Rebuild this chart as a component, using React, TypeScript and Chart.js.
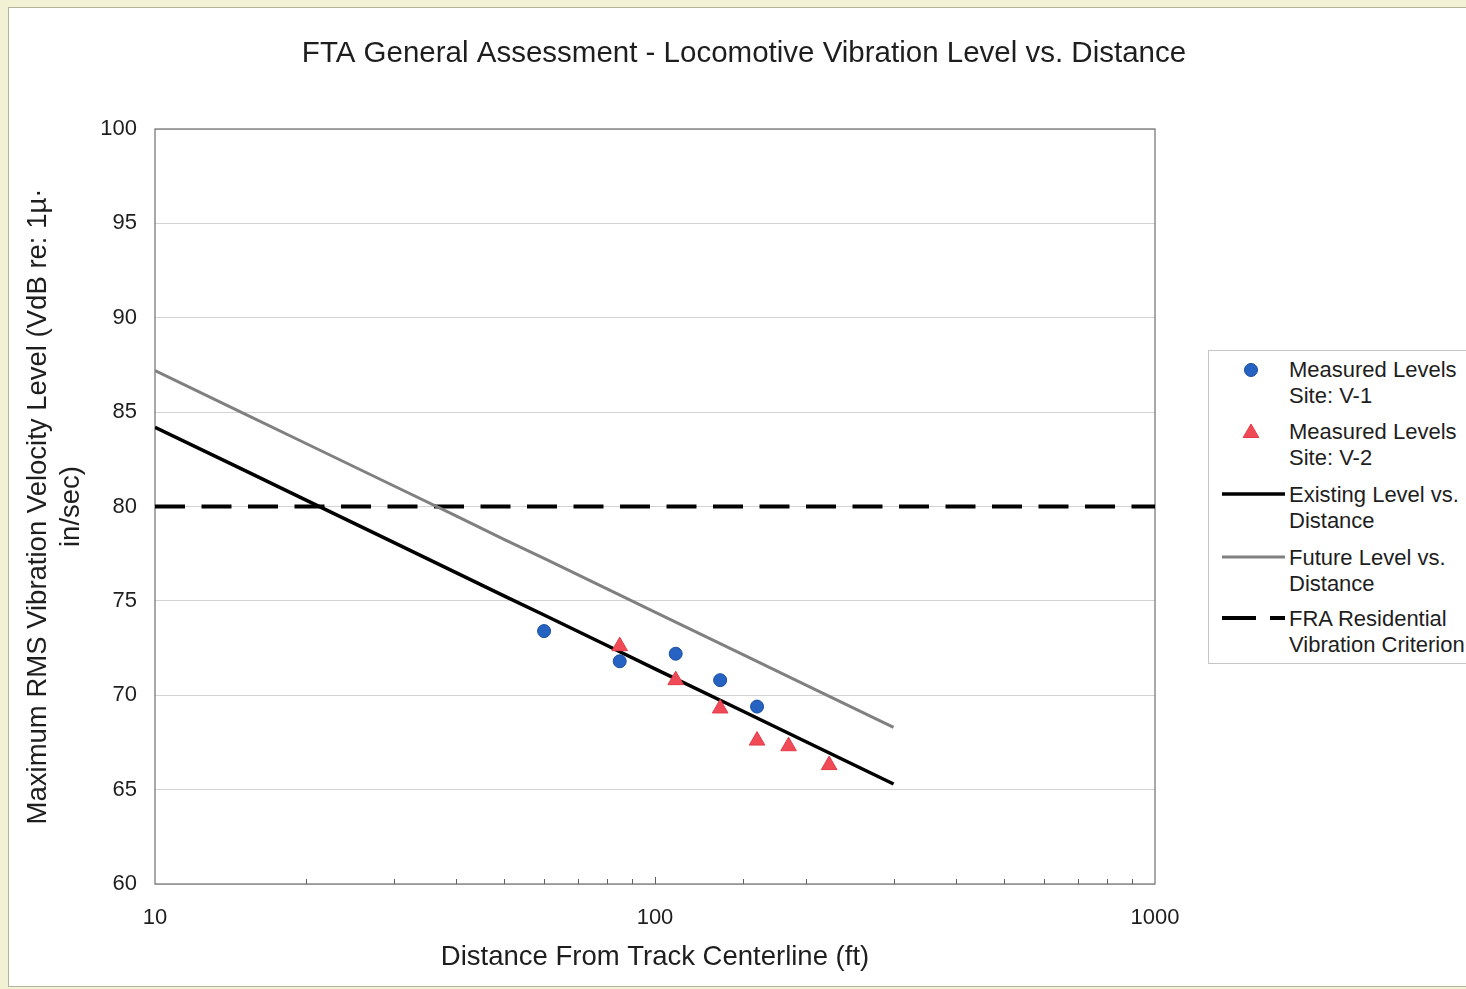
import React, { useEffect, useRef } from "react";
import { Chart, registerables } from "chart.js";

Chart.register(...registerables);

const FONT = '"Liberation Sans", Arial, Helvetica, sans-serif';
const TEXT = "#1e1e1e";

// ---- text ----
const chartTitle = "FTA General Assessment - Locomotive Vibration Level vs. Distance";
const xAxisTitle = "Distance From Track Centerline (ft)";
const yAxisTitle = ["Maximum RMS Vibration Velocity Level (VdB re: 1µ·", "in/sec)"];

// ---- axes ----
const xAxisRange = [10, 1000];
const xTickLabels = [10, 100, 1000];
const yAxisRange = [60, 100];
const yTickStep = 5;

// ---- series ----
const v1Distance = [60, 85, 110, 135, 160];
const v1Level = [73.4, 71.8, 72.2, 70.8, 69.4];

const v2Distance = [85, 110, 135, 160, 185, 223];
const v2Level = [72.6, 70.8, 69.3, 67.6, 67.3, 66.3];

const curveDistance = [10, 15, 20, 30, 40, 50, 60, 80, 100, 150, 200, 300];
const existingLevel = [84.2, 81.95, 80.35, 78.1, 76.5, 75.25, 74.25, 72.65, 71.4, 69.15, 67.55, 65.3];
const futureLevel = [87.2, 84.95, 83.35, 81.1, 79.5, 78.25, 77.25, 75.65, 74.4, 72.15, 70.55, 68.3];

const criterionDistance = [10, 1000];
const criterionLevel = [80, 80];

const seriesNames = [
  ["Measured Levels", "Site: V-1"],
  ["Measured Levels", "Site: V-2"],
  ["Existing Level vs.", "Distance"],
  ["Future Level vs.", "Distance"],
  ["FRA Residential", "Vibration Criterion"],
];

const toPoints = (xs: number[], ys: number[]) => xs.map((x, i) => ({ x, y: ys[i] }));

const framePlugin = {
  id: "frame",
  beforeDatasetsDraw(chart: any) {
    const { ctx, chartArea } = chart;
    const xs = chart.scales.x;
    ctx.save();
    ctx.strokeStyle = "#707070";
    ctx.lineWidth = 1.2;
    ctx.strokeRect(chartArea.left, chartArea.top, chartArea.right - chartArea.left, chartArea.bottom - chartArea.top);
    ctx.strokeStyle = "#606060";
    ctx.lineWidth = 1;
    for (const t of xs.ticks) {
      const px = xs.getPixelForValue(t.value);
      if (px <= chartArea.left + 1 || px >= chartArea.right - 1) continue;
      const lg = Math.log10(t.value);
      const major = Math.abs(lg - Math.round(lg)) < 1e-9;
      const len = major ? 7 : 5;
      ctx.beginPath();
      ctx.moveTo(Math.round(px) + 0.5, chartArea.bottom);
      ctx.lineTo(Math.round(px) + 0.5, chartArea.bottom - len);
      ctx.stroke();
    }
    ctx.restore();
  },
};

export default function App() {
  const ref = useRef<HTMLCanvasElement>(null);

  useEffect(() => {
    const canvas = ref.current!;
    const chart = new Chart(canvas, {
      type: "scatter",
      data: {
        datasets: [
          {
            label: seriesNames[0].join(" "),
            data: toPoints(v1Distance, v1Level),
            pointStyle: "circle",
            pointRadius: 6.5,
            backgroundColor: "#2662c2",
            borderColor: "#1b4e9e",
            borderWidth: 1,
            showLine: false,
          },
          {
            label: seriesNames[1].join(" "),
            data: toPoints(v2Distance, v2Level),
            pointStyle: "triangle",
            pointRadius: 9,
            backgroundColor: "#f04a57",
            borderColor: "#e23b48",
            borderWidth: 1,
            showLine: false,
          },
          {
            label: seriesNames[2].join(" "),
            data: toPoints(curveDistance, existingLevel),
            showLine: true,
            pointRadius: 0,
            borderColor: "#000000",
            borderWidth: 3.5,
            tension: 0,
          },
          {
            label: seriesNames[3].join(" "),
            data: toPoints(curveDistance, futureLevel),
            showLine: true,
            pointRadius: 0,
            borderColor: "#808080",
            borderWidth: 3,
            tension: 0,
          },
          {
            label: seriesNames[4].join(" "),
            data: toPoints(criterionDistance, criterionLevel),
            showLine: true,
            pointRadius: 0,
            borderColor: "#000000",
            borderWidth: 4,
            borderDash: [30, 16.5],
            tension: 0,
          },
        ],
      },
      options: {
        responsive: false,
        animation: false,
        events: [],
        layout: { padding: { left: 22, right: 0, top: 0, bottom: 0 } },
        plugins: {
          legend: { display: false },
          tooltip: { enabled: false },
          title: {
            display: true,
            text: chartTitle,
            color: TEXT,
            font: { family: FONT, size: 29.5, weight: "normal" },
            padding: { top: 36.3, bottom: 57.3 },
          },
        },
        scales: {
          x: {
            type: "logarithmic",
            position: "bottom",
            min: xAxisRange[0],
            max: xAxisRange[1],
            grid: { display: false },
            border: { display: false },
            ticks: {
              autoSkip: false,
              maxRotation: 0,
              padding: 13,
              color: TEXT,
              font: { family: FONT, size: 22 },
              callback: (v: any) => (xTickLabels.includes(Number(v)) ? String(v) : ""),
            },
            title: {
              display: true,
              text: xAxisTitle,
              color: TEXT,
              font: { family: FONT, size: 27.5 },
              padding: { top: 0, bottom: 15.5 },
            },
            afterFit: (s: any) => {
              s.height = 105;
            },
          },
          y: {
            type: "linear",
            position: "left",
            min: yAxisRange[0],
            max: yAxisRange[1],
            grid: { color: "#d2d2d2", lineWidth: 1, drawTicks: false },
            border: { display: false },
            ticks: {
              stepSize: yTickStep,
              padding: 18,
              color: TEXT,
              font: { family: FONT, size: 22 },
            },
            title: {
              display: true,
              text: yAxisTitle,
              color: TEXT,
              font: { family: FONT, size: 27.5 },
              padding: { top: 0, bottom: 0 },
            },
            afterFit: (s: any) => {
              s.width = 133;
            },
          },
          legendSpace: {
            type: "linear",
            position: "right",
            display: true,
            grid: { display: false },
            border: { display: false },
            ticks: { display: false },
            afterFit: (s: any) => {
              s.width = 311;
            },
          },
        },
      } as any,
      plugins: [framePlugin],
    });
    return () => chart.destroy();
  }, []);

  const legendRows = [370, 432, 495, 558, 619];
  const mx = 1251;

  return (
    <div
      style={{
        position: "fixed",
        left: 0,
        top: 0,
        width: 1466,
        height: 989,
        overflow: "hidden",
        background: "#f3f1d3",
      }}
    >
      <div
        style={{
          position: "absolute",
          left: 8,
          top: 7,
          width: 1520,
          height: 978,
          background: "#ffffff",
          border: "1px solid #b5b39e",
        }}
      />
      <canvas
        ref={ref}
        width={1466}
        height={989}
        style={{ position: "absolute", left: 0, top: 0, width: 1466, height: 989 }}
      />
      <div
        style={{
          position: "absolute",
          left: 1208,
          top: 350,
          width: 320,
          height: 312,
          background: "#ffffff",
          border: "1px solid #c6c6c6",
        }}
      />
      <svg
        width={1466}
        height={989}
        style={{ position: "absolute", left: 0, top: 0, pointerEvents: "none" }}
      >
        <circle cx={mx} cy={legendRows[0]} r={6.5} fill="#2662c2" stroke="#1b4e9e" strokeWidth={1} />
        <polygon
          points={`${mx},${legendRows[1] - 8} ${mx - 7.8},${legendRows[1] + 5.5} ${mx + 7.8},${legendRows[1] + 5.5}`}
          fill="#f04a57"
          stroke="#e23b48"
          strokeWidth={1}
        />
        <line x1={1222} x2={1285} y1={legendRows[2] - 1} y2={legendRows[2] - 1} stroke="#000" strokeWidth={3.5} />
        <line x1={1222} x2={1285} y1={legendRows[3] - 1} y2={legendRows[3] - 1} stroke="#808080" strokeWidth={3} />
        <line x1={1222} x2={1256} y1={legendRows[4] - 1} y2={legendRows[4] - 1} stroke="#000" strokeWidth={4} />
        <line x1={1270} x2={1285} y1={legendRows[4] - 1} y2={legendRows[4] - 1} stroke="#000" strokeWidth={4} />
      </svg>
      {seriesNames.map((lines, i) => (
        <div
          key={i}
          style={{
            position: "absolute",
            left: 1289,
            top: legendRows[i] - 13,
            fontFamily: FONT,
            fontSize: 22,
            lineHeight: "26px",
            color: TEXT,
            whiteSpace: "nowrap",
          }}
        >
          {lines.map((l, j) => (
            <div key={j}>{l}</div>
          ))}
        </div>
      ))}
    </div>
  );
}
